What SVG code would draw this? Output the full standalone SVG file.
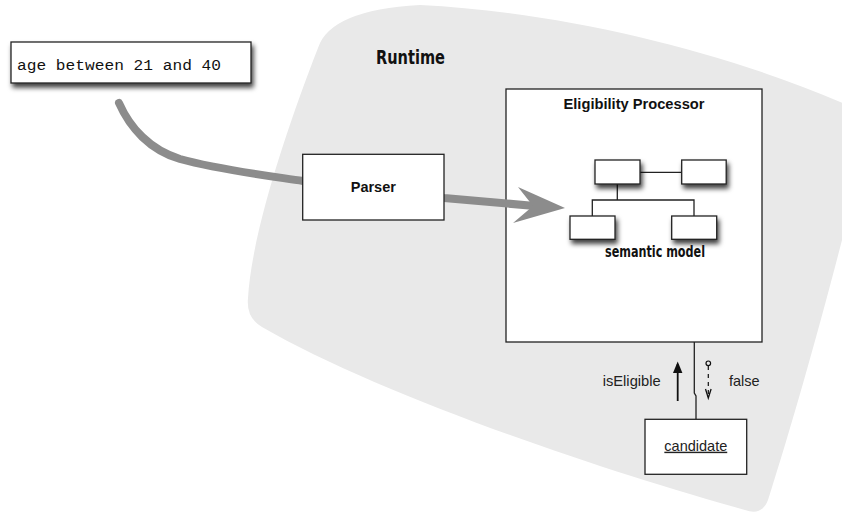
<svg xmlns="http://www.w3.org/2000/svg" width="842" height="515" viewBox="0 0 842 515">
  <style>
    .box { fill: #ffffff; stroke: #222222; stroke-width: 1.3; }
    .thin { fill: none; stroke: #222222; stroke-width: 1.3; }
    .label { font-family: "Liberation Sans", Arial, sans-serif; font-size: 14.5px; fill: #222222; }
    .bold { font-weight: bold; fill: #111111; }
    .hand { font-family: "DejaVu Sans Condensed", "DejaVu Sans", sans-serif; font-weight: bold; fill: #111111; }
    .code { font-family: "Liberation Mono", "Courier New", monospace; font-size: 15.5px; fill: #111111; }
    .flow { fill: none; stroke: #8c8c8c; stroke-width: 8; stroke-linecap: round; stroke-linejoin: round; }
  </style>
  <defs>
    <filter id="shadow" x="-30%" y="-30%" width="170%" height="190%">
      <feDropShadow dx="2" dy="4" stdDeviation="2.5" flood-color="#000000" flood-opacity="0.75"/>
    </filter>
  </defs>

  <!-- runtime region -->
  <path id="runtime-region" d="M318,48 Q330,10 420,5 C560,12 720,50 845,104 Q872,116 862,160 C838,260 800,400 768,500 Q762,516 745,510 C600,470 380,395 262,327 Q246,318 248,298 C252,230 290,120 318,48 Z" fill="#e9e9e9"/>
  <text class="hand" x="376" y="64" font-size="20" textLength="69" lengthAdjust="spacingAndGlyphs">Runtime</text>

  <!-- eligibility processor -->
  <g id="eligibility-processor">
    <rect class="box" x="506" y="89" width="256" height="253"/>
    <text class="label bold" x="634" y="109" text-anchor="middle" textLength="141" lengthAdjust="spacingAndGlyphs">Eligibility Processor</text>
  </g>

  <!-- connectors -->
  <g id="connectors">
    <path class="flow" d="M119,103 C130,128 150,150 180,159 C220,170 270,176 303,181 L444,198 L535,206"/>
    <polygon points="565,208 518,187 533,206 513,223" fill="#8c8c8c"/>
    <!-- processor to candidate -->
    <path class="thin" d="M694.3,342 L694.3,393 L696,396 L696,419.3"/>
    <!-- isEligible call -->
    <line x1="677.7" y1="401" x2="677.7" y2="364" stroke="#111111" stroke-width="1.8"/>
    <path d="M673,373 L677.7,361.5 L682.4,373 Z" fill="#111111"/>
    <!-- returned value -->
    <circle cx="708.3" cy="363.3" r="2.3" fill="none" stroke="#111111" stroke-width="1.2"/>
    <line x1="708.3" y1="366" x2="708.3" y2="396" stroke="#111111" stroke-width="1.2" stroke-dasharray="4,4"/>
    <path d="M705.5,389 L708.3,398 L711.1,389" fill="none" stroke="#111111" stroke-width="1.3"/>
  </g>

  <!-- DSL input text -->
  <g id="dsl-text">
    <rect class="box" x="11" y="42" width="240" height="41" filter="url(#shadow)"/>
    <text class="code" x="17" y="70" textLength="204" lengthAdjust="spacingAndGlyphs">age between 21 and 40</text>
  </g>

  <!-- parser -->
  <g id="parser">
    <rect class="box" x="302.7" y="154.3" width="141.3" height="65.7"/>
    <text class="label bold" x="373.3" y="192.3" text-anchor="middle">Parser</text>
  </g>

  <!-- semantic model -->
  <g id="semantic-model">
    <path class="thin" d="M640,172.3 L681.7,172.3 M617.3,184 L617.3,200 M592.3,216 L592.3,200 L694,200 L694,216"/>
    <rect class="box" x="595" y="160" width="45" height="24" filter="url(#shadow)"/>
    <rect class="box" x="681.7" y="160" width="44.5" height="24" filter="url(#shadow)"/>
    <rect class="box" x="570" y="216" width="45" height="23.3" filter="url(#shadow)"/>
    <rect class="box" x="671.7" y="216" width="45" height="23.3" filter="url(#shadow)"/>
    <text class="hand" x="605" y="257" font-size="16" textLength="100" lengthAdjust="spacingAndGlyphs">semantic model</text>
  </g>

  <!-- message labels -->
  <g id="messages">
    <text class="label" x="602.7" y="385.7" textLength="58" lengthAdjust="spacingAndGlyphs">isEligible</text>
    <text class="label" x="729" y="385.7">false</text>
  </g>

  <!-- candidate -->
  <g id="candidate">
    <rect class="box" x="645" y="419.3" width="101.7" height="55"/>
    <text class="label" x="695.8" y="450.7" text-anchor="middle" font-size="14.2" text-decoration="underline">candidate</text>
  </g>
</svg>
